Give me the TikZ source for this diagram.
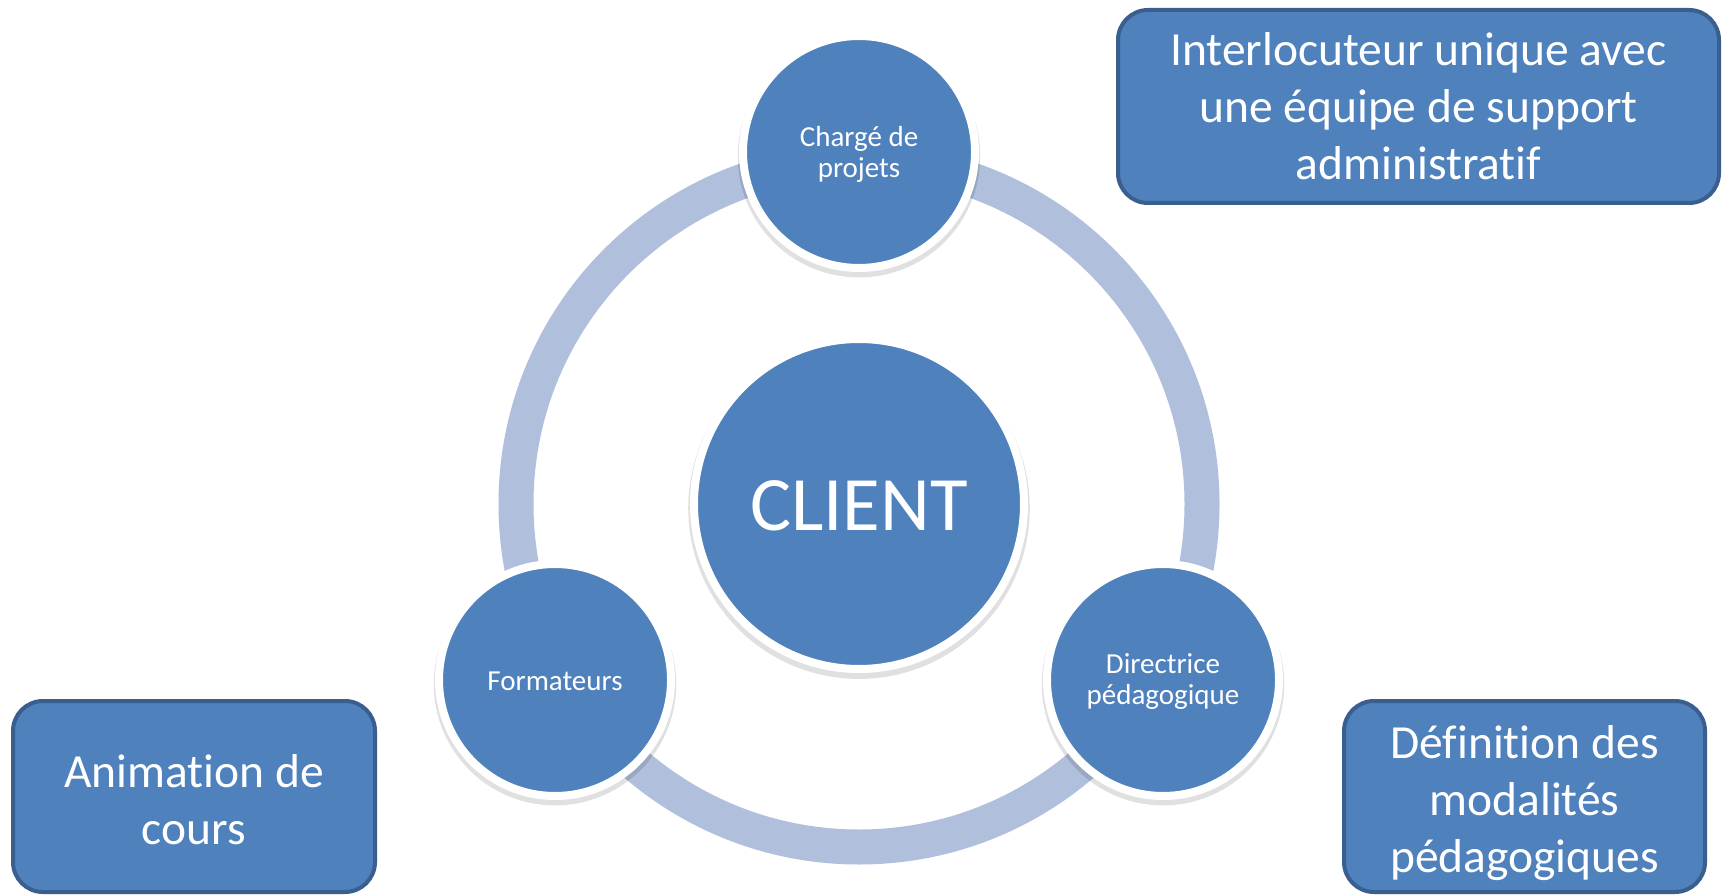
\documentclass[tikz,border=0pt]{standalone}
\usepackage{fontspec}
\setmainfont[Ligatures=NoCommon, RawFeature={-liga;-clig;-dlig;-calt}]{Carlito}
\usetikzlibrary{shadows}
\definecolor{nodeblue}{HTML}{4F81BD}
\definecolor{boxedge}{HTML}{3A5F8F}
\definecolor{ringblue}{HTML}{AFBFDC}
\newcommand\myTop[1]{\rule{0pt}{#1}}
\newcommand\myBot[1]{\rule[-#1]{0pt}{#1}}
\newcommand\nolig{\kern0pt}
\tikzset{
  smallcirc/.style={circle, fill=nodeblue, draw=white, line width=8pt, inner sep=0pt,
    minimum size=232pt, text=white, align=center, font=\fontsize{29}{31}\selectfont,
    drop shadow={shadow xshift=0pt, shadow yshift=-4pt, shadow scale=1.045, opacity=0.12, fill=black}},
  bigcirc/.style={circle, fill=nodeblue, draw=white, line width=8pt, inner sep=0pt,
    minimum size=330pt, text=white, font=\fontsize{77}{90}\selectfont,
    drop shadow={shadow xshift=0pt, shadow yshift=-4pt, shadow scale=1.035, opacity=0.12, fill=black}},
  infobox/.style={rectangle, rounded corners=30pt, fill=nodeblue, draw=boxedge, line width=4pt,
    inner sep=0pt, text=white, align=center, font=\fontsize{47.5}{57}\selectfont},
  ring/.style={draw=ringblue, line width=35pt}
}
\begin{document}
\begin{tikzpicture}[x=1pt, y=-1pt]
\useasboundingbox (0,0) rectangle (1727,896);
\fill[white] (0,0) rectangle (1727,896);
\coordinate (c) at (859,504);
\draw[ring] (c) circle[radius=343];
\node[bigcirc] (client) at (c) {\myTop{66pt}\myBot{14pt}CLIENT};
\node[smallcirc] (charge) at (859,152) {\myTop{31pt}Chargé de\\\myBot{10pt}projets};
\node[smallcirc] (form) at (555,680) {\myTop{31pt}\myBot{11pt}Formateurs};
\node[smallcirc] (dir) at (1163,680) {\myTop{28pt}Directrice\\\myBot{10pt}pédagogique};
\node[infobox, minimum width=601pt, minimum height=193pt] (b1) at (1418.5,106.5)
  {\myTop{45pt}Interlocuteur unique avec\\une équipe de support\\\myBot{12pt}administrat\nolig if};
\node[infobox, minimum width=362pt, minimum height=191pt] (b2) at (194,796.5)
  {\myTop{49pt}Animat\nolig ion de\\\myBot{10pt}cours};
\node[infobox, minimum width=361pt, minimum height=191pt] (b3) at (1524.5,796.5)
  {\myTop{51pt}Définit\nolig ion des\\modalités\\\myBot{14pt}pédagogiques};
\end{tikzpicture}
\end{document}
